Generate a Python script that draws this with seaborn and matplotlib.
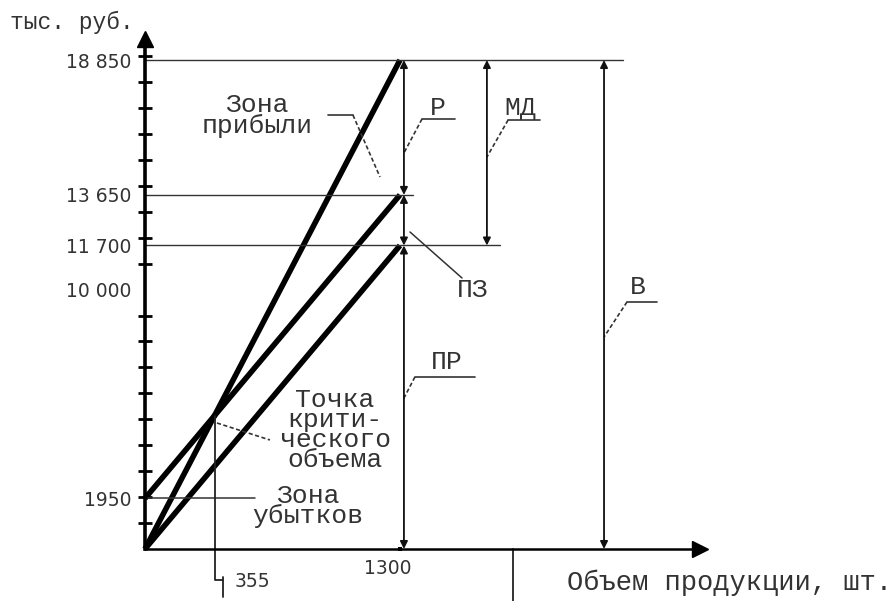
import numpy as np
import pandas as pd
import matplotlib
matplotlib.use("Agg")
import matplotlib.pyplot as plt
import matplotlib.transforms as mtransforms
import seaborn as sns

# break-even chart data (тыс. руб. vs объем продукции)
volume = [0, 1300]
revenue = [0, 18850]          # В  - выручка
total_cost = [1950, 13650]    # полные затраты
variable_cost = [0, 11700]    # ПР - переменные расходы
line_names = ["revenue", "total_cost", "variable_cost"]

y_tick_values = [1950, 10000, 11700, 13650, 18850]
y_tick_labels = ["1950", "10 000", "11 700", "13 650", "18 850"]
x_tick_values = [1300]
x_tick_labels = ["1300"]
break_even_label = "355"

# dimension arrows: name, bottom, top
dim_names = ["Р", "ПЗ", "ПР", "МД", "В"]
dim_bottom = [13650, 11700, 0, 11700, 0]
dim_top = [18850, 13650, 11700, 18850, 18850]

sns.set_theme(style="white")
plt.rcParams["font.family"] = ["DejaVu Sans"]
label_font = ["Liberation Mono", "DejaVu Sans Mono"]
txt_col = "#333333"
fs = 19

df = pd.DataFrame({
    "volume": volume * 3,
    "value": revenue + total_cost + variable_cost,
    "line": [n for n in line_names for _ in volume],
})

fig = plt.figure(figsize=(8.93, 6.01), dpi=100)
ax = fig.add_axes([0, 0, 1, 1])
ax.set_xlim(-739, 3813)
ax.set_ylim(-2005, 21164)

sns.lineplot(data=df, x="volume", y="value", hue="line", palette=["black"] * 3,
             linewidth=4, legend=False, ax=ax, solid_capstyle="butt")

# axes as spines crossing at zero
for s in ["top", "right"]:
    ax.spines[s].set_visible(False)
ax.spines["left"].set_position(("data", 0))
ax.spines["bottom"].set_position(("data", 0))
ax.spines["left"].set_bounds(0, 19500)
ax.spines["bottom"].set_bounds(0, 2800)
ax.spines["left"].set_linewidth(2.6)
ax.spines["bottom"].set_linewidth(1.8)
ax.spines["left"].set_color("black")
ax.spines["bottom"].set_color("black")
ax.plot([0], [19650], marker="^", ms=11, color="black", clip_on=False)
ax.plot([2830], [0], marker=">", ms=12, color="black", clip_on=False)

ax.set_yticks(y_tick_values)
ax.set_yticklabels(y_tick_labels, fontsize=13.5, color=txt_col)
ax.set_yticks(np.arange(1000, 19001, 1000), minor=True)
ax.tick_params(axis="y", which="major", length=0, pad=10)
ax.tick_params(axis="y", which="minor", length=10, width=2, direction="inout",
               color="black", left=True)
ax.set_xticks(x_tick_values)
ax.set_xticklabels(x_tick_labels, fontsize=13.5, color=txt_col)
ax.tick_params(axis="x", which="major", length=3, width=3, direction="inout",
               pad=6, color="black", bottom=True)
for lab in ax.get_xticklabels():
    lab.set_transform(lab.get_transform() +
                      mtransforms.ScaledTranslation(-0.12, 0, fig.dpi_scale_trans))
ax.set_xlabel("")
ax.set_ylabel("")

# horizontal guide lines
ax.plot([0, 2437], [revenue[1]] * 2, color="#333", lw=1.0)
ax.plot([0, 1366], [total_cost[1]] * 2, color="#333", lw=1.0)
ax.plot([0, 1810], [variable_cost[1]] * 2, color="#333", lw=1.0)

# dimension arrows
dim_x = [1320, 1320, 1320, 1743, 2340]
for x, lo, hi in zip(dim_x, dim_bottom, dim_top):
    ax.annotate("", xy=(x, lo), xytext=(x, hi),
                arrowprops=dict(arrowstyle="<|-|>", mutation_scale=11, lw=1.3,
                                color="#111", shrinkA=0, shrinkB=0))

dash = (0, (2.5, 1.5))
# Р
ax.text(1494, 17001, dim_names[0], fontsize=fs, family=label_font, color=txt_col,
        ha="center", va="center")
ax.plot([1412, 1580], [16577, 16577], color="#333", lw=1.2)
ax.plot([1412, 1320], [16577, 15266], color="#333", lw=1.2, ls=dash)
# МД
ax.text(1912, 17001, dim_names[3], fontsize=fs, family=label_font, color=txt_col,
        ha="center", va="center")
ax.plot([1851, 2014], [16538, 16538], color="#333", lw=1.2)
ax.plot([1851, 1743], [16538, 15112], color="#333", lw=1.2, ls=dash)
# ПЗ
ax.text(1672, 9985, dim_names[1], fontsize=fs, family=label_font, color=txt_col,
        ha="center", va="center")
ax.plot([1351, 1616], [12220, 10447], color="#333", lw=1.1)
# В
ax.text(2513, 10100, dim_names[4], fontsize=fs, family=label_font, color=txt_col,
        ha="center", va="center")
ax.plot([2457, 2610], [9522, 9522], color="#333", lw=1.2)
ax.plot([2457, 2340], [9522, 8173], color="#333", lw=1.2, ls=dash)
# ПР
ax.text(1540, 7209, dim_names[2], fontsize=fs, family=label_font, color=txt_col,
        ha="center", va="center")
ax.plot([1376, 1682], [6631, 6631], color="#333", lw=1.2)
ax.plot([1376, 1315], [6631, 5744], color="#333", lw=1.2, ls=dash)

# zone labels
ax.text(571, 16712, "Зона\nприбыли", fontsize=fs, family=label_font, color=txt_col,
        ha="center", va="center", linespacing=0.8)
ax.plot([933, 1060], [16731, 16731], color="#333", lw=1.2)
ax.plot([1060, 1198], [16731, 14341], color="#333", lw=1.2, ls=dash)

ax.text(831, 1658, "Зона\nубытков", fontsize=fs, family=label_font, color=txt_col,
        ha="center", va="center", linespacing=0.8)
ax.plot([15, 561], [total_cost[0]] * 2, color="#333", lw=1.1)

ax.text(969, 4588, "Точка\nкрити-\nческого\nобъема", fontsize=fs, family=label_font,
        color=txt_col, ha="center", va="center", linespacing=0.8)
ax.plot([367, 637], [4857, 4202], color="#333", lw=1.2, ls=dash)

# break-even point drop line
rev_slope = (revenue[1] - revenue[0]) / (volume[1] - volume[0])
var_slope = (variable_cost[1] - variable_cost[0]) / (volume[1] - volume[0])
be_x = total_cost[0] / (rev_slope - var_slope)
be_y = rev_slope * be_x
ax.plot([be_x, be_x, 398], [be_y, -1195, -1195], color="#222", lw=1.3)
ax.plot([398, 398], [-1080, -1850], color="#222", lw=1.3)
ax.text(459, -1272, break_even_label, fontsize=13.5, color=txt_col, ha="left", va="center")

ax.plot([1876, 1876], [0, -2005], color="#222", lw=1.3)

ax.text(-688, 20316, "тыс. руб.", fontsize=16.5, family=label_font, color=txt_col,
        ha="left", va="center")
ax.text(2151, -1311, "Объем продукции, шт.", fontsize=19.5, family=label_font,
        color=txt_col, ha="left", va="center")

fig.savefig("out.png", dpi=100, facecolor="white")
